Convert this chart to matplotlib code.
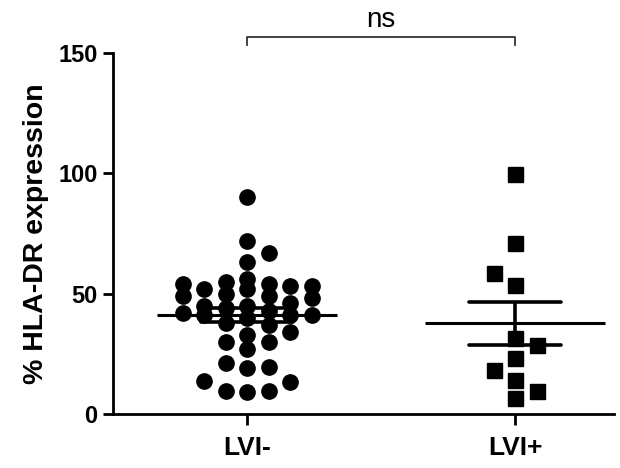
import numpy as np
import matplotlib
matplotlib.use("Agg")
import matplotlib.pyplot as plt

# values (% HLA-DR expression)
groups = ["LVI-", "LVI+"]
lvi_neg = [90, 72, 67, 63,
           56, 55, 54, 54, 53, 53, 52, 52,
           50, 49, 49, 48,
           46, 45, 45,
           44, 43,
           42, 41, 41, 41, 40,
           38, 37,
           34, 33,
           30, 30,
           27,
           21, 19.5, 19,
           13.7, 13.3,
           9.5, 9, 9.5]
lvi_pos = [99.7, 71, 58.6, 53.6, 31.6, 28.7, 23.3, 18.3, 14.1, 9.6, 6.6]
y_ticks = [0, 50, 100, 150]

plt.rcParams['font.family'] = ['Liberation Sans', 'DejaVu Sans']

W, H, DPI = 620, 468, 100
fig = plt.figure(figsize=(W / DPI, H / DPI), dpi=DPI)
ax = fig.add_axes([113 / W, (H - 414) / H, 501 / W, 361 / H])
ax.set_xlim(0.5, 2.369)
ax.set_ylim(0, 150)

# pixel scale, used only for the swarm layout
px_x = 501 / (2.369 - 0.5)
px_y = 361 / 150.0


def swarm(values, center, step_px=21.5, min_px=14.0, max_steps=3):
    """Greedy column swarm (Prism-like), filled from the bottom up."""
    placed = []
    xs = np.zeros(len(values))
    order = np.argsort(values, kind='stable')
    count = {}
    for i in order:
        v = values[i]
        cands = [0]
        for k in range(1, max_steps + 1):
            pair = [k, -k]
            if count.get(-k, 0) < count.get(k, 0):
                pair = [-k, k]
            cands += pair
        best, best_d = 0, -1
        for c in cands:
            dx = c * step_px
            d = min([np.hypot(dx - px, (v - py) * px_y) for px, py in placed] or [1e9])
            if d >= min_px:
                best = c
                break
            if d > best_d:
                best, best_d = c, d
        count[best] = count.get(best, 0) + 1
        placed.append((best * step_px, v))
        xs[i] = center + best * step_px / px_x
    return xs


data = [np.array(lvi_neg), np.array(lvi_pos)]
markers = ['o', 's']
for i, (vals, mk) in enumerate(zip(data, markers)):
    pos = i + 1
    xs = swarm(vals, pos)
    ax.plot(xs, vals, mk, color='black', ms=11 if mk == 'o' else 10.8,
            mec='black', zorder=3, clip_on=False)
    mean = vals.mean()
    sem = vals.std(ddof=1) / np.sqrt(len(vals))
    ax.hlines(mean, pos - 90 / px_x, pos + 90 / px_x, color='black', lw=2.2, zorder=4)
    ax.hlines([mean - sem, mean + sem], pos - 46 / px_x, pos + 46 / px_x,
              color='black', lw=2.6, zorder=4, capstyle='round')
    ax.vlines(pos, mean - sem, mean + sem, color='black', lw=2.6, zorder=4)

# significance bracket
ax.plot([1, 1, 2, 2], [153.3, 156.6, 156.6, 153.3], color='#333333', lw=1.3,
        clip_on=False)
ax.text(1.5, 158.5, "ns", ha='center', va='bottom', fontsize=20)

ax.spines['top'].set_visible(False)
ax.spines['right'].set_visible(False)
ax.spines['left'].set_linewidth(2)
ax.spines['bottom'].set_linewidth(2)
ax.set_xticks([1, 2])
ax.set_xticklabels(groups, fontsize=19, fontweight='bold')
ax.set_yticks(y_ticks)
ax.set_yticklabels([str(t) for t in y_ticks], fontsize=17, fontweight='bold')
ax.tick_params(axis='y', length=7, width=2, pad=4)
ax.tick_params(axis='x', length=8, width=2, pad=8)
ax.set_ylabel("% HLA-DR expression", fontsize=20.5, fontweight='bold', labelpad=7)

fig.savefig("out.png", dpi=DPI)
